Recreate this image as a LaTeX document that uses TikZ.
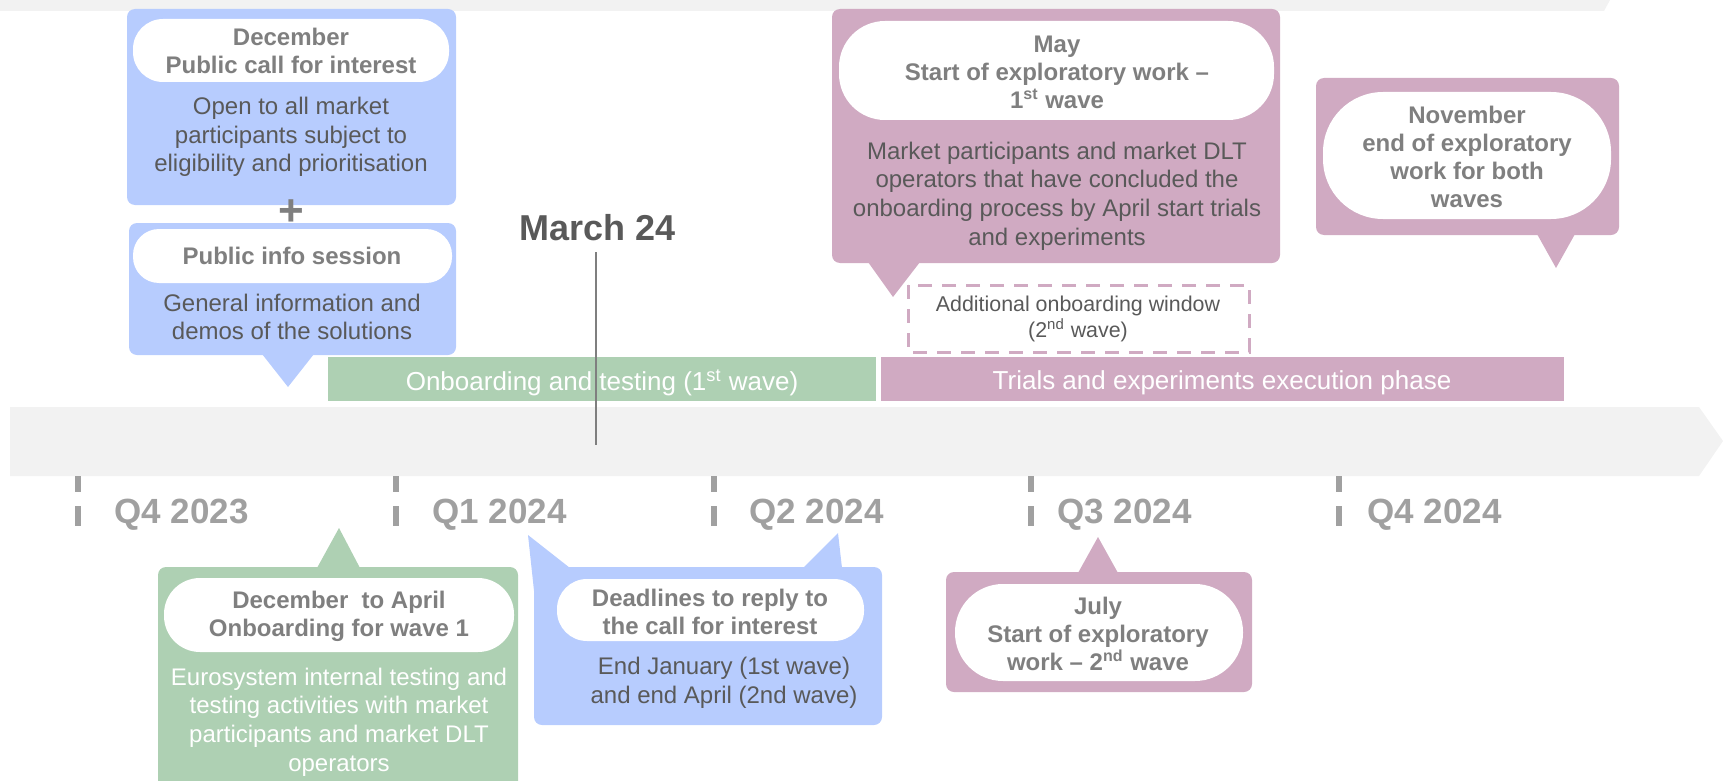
\documentclass[tikz,border=0pt]{standalone}
\usepackage{fontspec}
\setmainfont{Liberation Sans}
\definecolor{cblue}{RGB}{183,204,254}
\definecolor{cmauve}{RGB}{208,170,194}
\definecolor{cgreen}{RGB}{174,208,179}
\definecolor{chead}{RGB}{127,127,127}
\definecolor{cbody}{RGB}{89,89,89}
\definecolor{cq}{RGB}{160,160,160}
\definecolor{cband}{RGB}{242,242,242}
\begin{document}
\begin{tikzpicture}[x=0.5pt,y=-0.5pt,
  head/.style={font=\fontsize{12}{14}\selectfont\bfseries, text=chead, align=center, inner sep=0pt},
  body/.style={font=\fontsize{12}{14.3}\selectfont, text=cbody, align=center, inner sep=0pt},
  bartext/.style={font=\fontsize{13}{15}\selectfont, text=white, inner sep=0pt},
  qlabel/.style={font=\fontsize{17.5}{20}\selectfont\bfseries, text=cq, anchor=west, inner sep=0pt},
  qtick/.style={draw=cq, line width=3pt},
  boxr/.style={rounded corners=4pt}]
\useasboundingbox (0,0) rectangle (1723,781);

% top band
\fill[cband] (0,0) -- (1610,0) -- (1604,11) -- (0,11) -- cycle;

% timeline arrow
\fill[cband] (10,407) -- (1699,407) -- (1723,441) -- (1699,476) -- (10,476) -- cycle;

% phase bars
\fill[cgreen] (328,357) rectangle (876,401);
\fill[cmauve] (881,357) rectangle (1564,401);
\node[bartext] (bar1) at (602,383) {Onboarding and testing (1\textsuperscript{st} wave)};
\node[bartext] (bar2) at (1222,383) {Trials and experiments execution phase};

% March 24
\node[font=\fontsize{18}{20}\selectfont\bfseries, text=cbody, inner sep=0pt] (march) at (598,228) {March 24};
\coordinate (mtop) at (596,252);
\coordinate (mbot) at (596,445);
\draw[chead, line width=0.8pt] (mtop) -- (mbot);

% quarter ticks and labels
\foreach \x in {77.5,396,714,1031,1339}{
  \draw[qtick] (\x,476) -- (\x,492);
  \draw[qtick] (\x,506) -- (\x,526);
}
\node[qlabel] (q1) at (114,515) {Q4 2023};
\node[qlabel] (q2) at (432,515) {Q1 2024};
\node[qlabel] (q3) at (749,515) {Q2 2024};
\node[qlabel] (q4) at (1057,515) {Q3 2024};
\node[qlabel] (q5) at (1367,515) {Q4 2024};

% ---- December public call (blue)
\fill[cblue, boxr] (127,9) rectangle (456,205);
\fill[white, rounded corners=15pt] (133,19) rectangle (449,82);
\node[head] (h1) at (291,51) {December\\Public call for interest};
\node[body] (b1) at (291,137) {Open to all market\\participants subject to\\eligibility and prioritisation};

\node[font=\fontsize{22}{22}\selectfont\bfseries, text=chead, inner sep=0pt] (plus) at (291,213) {+};

% ---- Public info session (blue)
\fill[cblue, boxr] (129,223) rectangle (456,355);
\fill[cblue] (262,354) -- (314,354) -- (288,387) -- cycle;
\fill[white, rounded corners=13pt] (133,229) rectangle (452,283);
\node[head] (h2) at (292,256) {Public info session};
\node[body] (b2) at (292,317) {General information and\\demos of the solutions};

% ---- May (mauve)
\fill[cmauve, boxr] (832,9) rectangle (1280,263);
\fill[cmauve] (868,262) -- (920,262) -- (893,297) -- cycle;
\fill[white, rounded corners=23pt] (839,21) rectangle (1274,120);
\node[head] (h3) at (1057,72) {May\\Start of exploratory work --\\1\textsuperscript{st} wave};
\node[body] (b3) at (1057,196) {Market participants and market DLT\\operators that have concluded the\\onboarding process by April start trials\\and experiments};

% additional onboarding window
\draw[cmauve, line width=1.5pt, dash pattern=on 7pt off 5pt] (908,285) rectangle (1249,352);
\node[font=\fontsize{10.7}{10}\selectfont, text=cbody, align=center, inner sep=0pt] (add) at (1078,319) {Additional onboarding window\\(2\textsuperscript{nd} wave)};

% ---- November (mauve)
\fill[cmauve, boxr] (1316,78) rectangle (1619,235);
\fill[cmauve] (1537,234) -- (1575,234) -- (1556,268) -- cycle;
\fill[white, rounded corners=30pt] (1323,92) rectangle (1611,219);
\node[head] (h4) at (1467,157) {November\\end of exploratory\\work for both\\waves};

% ---- December to April (green)
\fill[cgreen, boxr] (158,567) rectangle (518,790);
\fill[cgreen] (317,568) -- (360,568) -- (339,528) -- cycle;
\fill[white, rounded corners=18pt] (164,578) rectangle (514,652);
\node[head] (h5) at (339,616) {December\ \ to April\\Onboarding for wave 1};
\node[body, text=white] (b5) at (339,722) {Eurosystem internal testing and\\testing activities with market\\participants and market DLT\\operators};

% ---- Deadlines (blue)
\fill[cblue, boxr] (534,567) rectangle (882,725);
\fill[cblue] (528,535) -- (570,568) -- (535,600) -- cycle;
\fill[cblue] (838,533) -- (842,568) -- (803,568) -- cycle;
\fill[white, rounded corners=15pt] (557,579) rectangle (864,641);
\node[head] (h6) at (710,612) {Deadlines to reply to\\the call for interest};
\node[body] (b6) at (724,683) {End January (1st wave)\\and end April (2nd wave)};

% ---- July (mauve)
\fill[cmauve, boxr] (946,572) rectangle (1252,692);
\fill[cmauve] (1078,573) -- (1118,573) -- (1098,537) -- cycle;
\fill[white, rounded corners=24pt] (955,584) rectangle (1243,681);
\node[head] (h7) at (1098,634) {July\\Start of exploratory\\work -- 2\textsuperscript{nd} wave};

\end{tikzpicture}
\end{document}
